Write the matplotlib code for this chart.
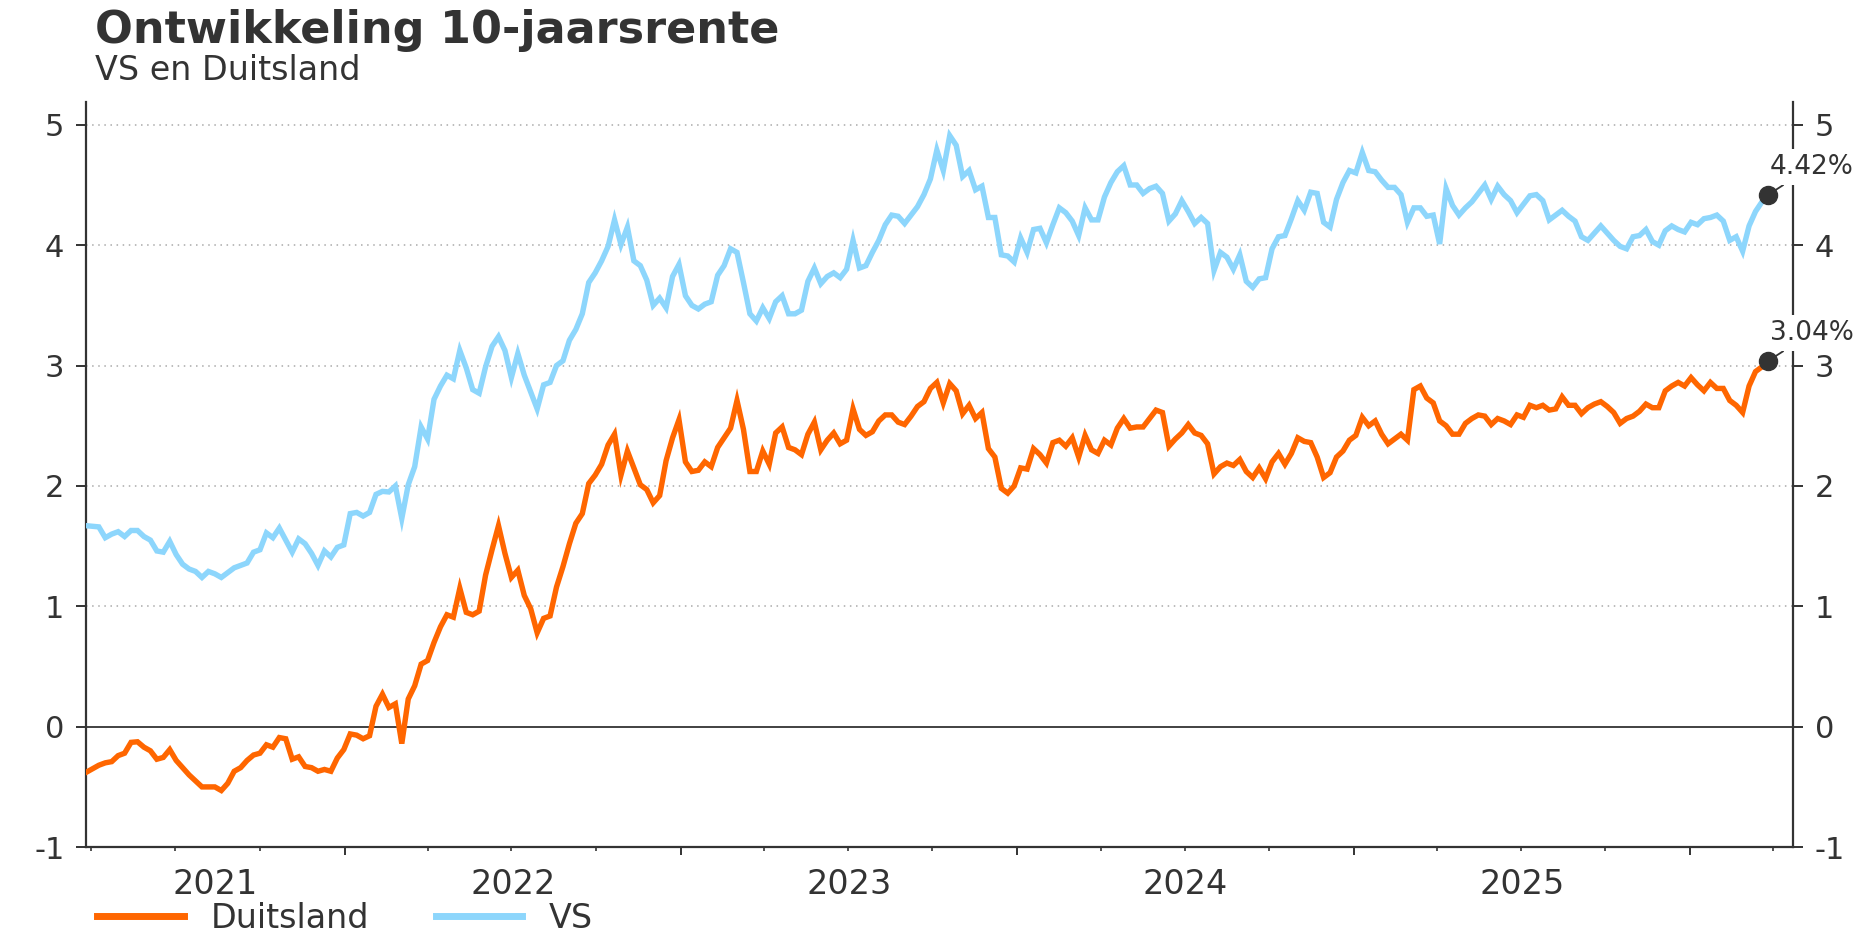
import pandas as pd
import matplotlib
matplotlib.use("Agg")
import matplotlib.pyplot as plt
import matplotlib.dates as mdates
from matplotlib.lines import Line2D

plt.rcParams['font.family'] = ['DejaVu Sans']

# weekly closes (Friday)
start_date = "2021-03-26"

us_yield = [
    1.67, 1.665, 1.66, 1.57, 1.60, 1.62, 1.58, 1.63, 1.63, 1.58,
    1.55, 1.46, 1.45, 1.54, 1.43, 1.35, 1.31, 1.29, 1.24, 1.29,
    1.27, 1.24, 1.28, 1.32, 1.34, 1.36, 1.45, 1.47, 1.61, 1.57,
    1.65, 1.55, 1.45, 1.56, 1.52, 1.44, 1.34, 1.46, 1.41, 1.49,
    1.51, 1.77, 1.78, 1.75, 1.78, 1.93, 1.955, 1.95, 2.00, 1.73,
    2.01, 2.16, 2.49, 2.39, 2.72, 2.83, 2.92, 2.89, 3.125, 2.98,
    2.80, 2.77, 2.99, 3.16, 3.24, 3.125, 2.90, 3.10, 2.92, 2.78,
    2.64, 2.84, 2.86, 3.00, 3.04, 3.21, 3.30, 3.43, 3.69, 3.77,
    3.87, 3.99, 4.21, 4.005, 4.15, 3.87, 3.83, 3.71, 3.50, 3.56,
    3.48, 3.74, 3.84, 3.58, 3.50, 3.47, 3.51, 3.53, 3.75, 3.83,
    3.97, 3.94, 3.69, 3.43, 3.37, 3.48, 3.39, 3.53, 3.58, 3.43,
    3.43, 3.46, 3.70, 3.81, 3.68, 3.74, 3.77, 3.73, 3.80, 4.04,
    3.81, 3.83, 3.94, 4.04, 4.17, 4.25, 4.24, 4.18, 4.25, 4.32,
    4.42, 4.55, 4.79, 4.62, 4.91, 4.83, 4.57, 4.62, 4.46, 4.49,
    4.23, 4.23, 3.92, 3.91, 3.86, 4.06, 3.94, 4.13, 4.14, 4.02,
    4.17, 4.31, 4.27, 4.20, 4.08, 4.31, 4.21, 4.21, 4.40, 4.52,
    4.61, 4.66, 4.50, 4.50, 4.43, 4.47, 4.49, 4.43, 4.20, 4.26,
    4.37, 4.28, 4.18, 4.23, 4.18, 3.79, 3.94, 3.90, 3.80, 3.92,
    3.70, 3.65, 3.72, 3.73, 3.97, 4.07, 4.08, 4.22, 4.37, 4.29,
    4.44, 4.43, 4.19, 4.15, 4.38, 4.52, 4.62, 4.60, 4.77, 4.62,
    4.61, 4.54, 4.48, 4.48, 4.42, 4.19, 4.31, 4.31, 4.24, 4.25,
    4.01, 4.47, 4.33, 4.25, 4.31, 4.36, 4.43, 4.50, 4.38, 4.49,
    4.42, 4.37, 4.27, 4.34, 4.41, 4.42, 4.37, 4.21, 4.25, 4.29,
    4.24, 4.20, 4.07, 4.04, 4.10, 4.16, 4.10, 4.04, 3.99, 3.97,
    4.07, 4.08, 4.13, 4.03, 4.00, 4.12, 4.16, 4.13, 4.11, 4.19,
    4.17, 4.22, 4.23, 4.25, 4.20, 4.04, 4.07, 3.95, 4.16, 4.28,
    4.36, 4.42,
]

de_yield = [
    -0.38, -0.35, -0.32, -0.30, -0.29, -0.24, -0.22, -0.13, -0.125, -0.17,
    -0.20, -0.27, -0.255, -0.19, -0.28, -0.34, -0.40, -0.45, -0.50, -0.50,
    -0.50, -0.53, -0.47, -0.37, -0.34, -0.28, -0.235, -0.22, -0.15, -0.17,
    -0.09, -0.10, -0.27, -0.25, -0.33, -0.34, -0.37, -0.355, -0.37, -0.26,
    -0.19, -0.06, -0.07, -0.10, -0.075, 0.17, 0.27, 0.16, 0.19, -0.14,
    0.23, 0.34, 0.52, 0.55, 0.70, 0.83, 0.93, 0.91, 1.15, 0.95,
    0.93, 0.96, 1.26, 1.47, 1.67, 1.44, 1.24, 1.30, 1.09, 0.98,
    0.78, 0.90, 0.92, 1.16, 1.33, 1.52, 1.69, 1.77, 2.02, 2.09,
    2.18, 2.34, 2.43, 2.09, 2.29, 2.15, 2.01, 1.97, 1.86, 1.92,
    2.21, 2.40, 2.55, 2.20, 2.12, 2.13, 2.20, 2.16, 2.32, 2.40,
    2.48, 2.71, 2.47, 2.12, 2.12, 2.29, 2.18, 2.44, 2.49, 2.32,
    2.30, 2.26, 2.43, 2.53, 2.30, 2.38, 2.44, 2.35, 2.38, 2.64,
    2.47, 2.42, 2.45, 2.54, 2.59, 2.59, 2.53, 2.51, 2.58, 2.66,
    2.70, 2.81, 2.86, 2.69, 2.85, 2.79, 2.60, 2.67, 2.56, 2.61,
    2.31, 2.24, 1.98, 1.94, 2.00, 2.15, 2.14, 2.31, 2.26, 2.19,
    2.36, 2.38, 2.33, 2.40, 2.24, 2.42, 2.30, 2.27, 2.38, 2.34,
    2.48, 2.56, 2.48, 2.49, 2.49, 2.56, 2.63, 2.61, 2.33, 2.39,
    2.44, 2.51, 2.44, 2.42, 2.35, 2.10, 2.16, 2.19, 2.17, 2.22,
    2.12, 2.07, 2.15, 2.06, 2.20, 2.27, 2.18, 2.27, 2.40, 2.37,
    2.36, 2.24, 2.07, 2.11, 2.24, 2.29, 2.38, 2.42, 2.57, 2.50,
    2.54, 2.43, 2.35, 2.39, 2.43, 2.38, 2.80, 2.83, 2.73, 2.69,
    2.54, 2.50, 2.43, 2.43, 2.52, 2.56, 2.59, 2.58, 2.51, 2.56,
    2.54, 2.51, 2.59, 2.57, 2.67, 2.65, 2.67, 2.63, 2.64, 2.74,
    2.67, 2.67, 2.60, 2.65, 2.68, 2.70, 2.66, 2.61, 2.52, 2.56,
    2.58, 2.62, 2.68, 2.65, 2.65, 2.79, 2.83, 2.86, 2.83, 2.90,
    2.84, 2.79, 2.86, 2.81, 2.81, 2.71, 2.67, 2.61, 2.83, 2.95,
    2.99, 3.04,
]

title = "Ontwikkeling 10-jaarsrente"
subtitle = "VS en Duitsland"
series_names = ["Duitsland", "VS"]
series_colors = ["#ff6600", "#8dd6fc"]
y_ticks = [-1, 0, 1, 2, 3, 4, 5]
years = [2021, 2022, 2023, 2024, 2025, 2026]

dates = pd.date_range(start_date, periods=len(us_yield), freq="7D")
dark = "#333333"

fig = plt.figure(figsize=(18.68, 9.35), dpi=100)
ax = fig.add_axes([0.046, 0.094, 0.914, 0.797])

# gridlines + zero line
for y in y_ticks:
    if y > 0:
        ax.axhline(y, color="#aaaaaa", lw=1.1, ls=(0, (1, 3)), zorder=1)
ax.axhline(0, color=dark, lw=1.3, zorder=1.5)

ax.plot(dates, de_yield, color=series_colors[0], lw=3.9, zorder=3, solid_joinstyle="miter")
ax.plot(dates, us_yield, color=series_colors[1], lw=3.9, zorder=3, solid_joinstyle="miter")

xmin = dates[0]
xmax = dates[-1] + pd.Timedelta(days=27)
ax.set_xlim(xmin, xmax)
ax.set_ylim(-1, 5.19)

for s in ["left", "right", "bottom"]:
    ax.spines[s].set_color(dark)
    ax.spines[s].set_linewidth(1.6)
ax.spines["top"].set_visible(False)

ax.set_yticks(y_ticks)
ax.set_yticklabels([str(v) for v in y_ticks])
ax.tick_params(axis="y", which="major", direction="out", length=7.5, width=1.4,
               color=dark, labelsize=22, labelcolor=dark, left=True, right=True,
               labelleft=True, labelright=True, pad=8)

ax.xaxis.set_major_locator(mdates.YearLocator())
ax.xaxis.set_minor_locator(mdates.MonthLocator(bymonth=[1, 4, 7, 10]))
ax.xaxis.set_major_formatter(plt.NullFormatter())
ax.tick_params(axis="x", which="major", direction="out", length=6, width=1.4, color=dark)
ax.tick_params(axis="x", which="minor", direction="out", length=3, width=1.2, color=dark)

# year labels centred on the visible part of each year
for yr in years:
    s = max(pd.Timestamp(f"{yr}-01-01"), xmin)
    e = min(pd.Timestamp(f"{yr + 1}-01-01"), xmax)
    if (e - s).days > 120:
        mid = s + (e - s) / 2
        ax.text(mid, -0.05, str(yr), transform=ax.get_xaxis_transform(),
                ha="center", va="center", fontsize=24, color=dark)

# end-point markers and labels
for vals in [us_yield, de_yield]:
    ax.plot(dates[-1], vals[-1], "o", ms=13, color=dark, zorder=6, clip_on=False)
    ax.annotate(f"{vals[-1]:.2f}%", xy=(dates[-1], vals[-1]), xytext=(31, 20),
                textcoords="offset points", ha="center", va="center",
                fontsize=19, color=dark, zorder=7, annotation_clip=False,
                bbox=dict(boxstyle="square,pad=0.2", fc="white", ec="none"),
                arrowprops=dict(arrowstyle="-", color=dark, lw=1.3,
                                shrinkA=0, shrinkB=6))

fig.text(95 / 1868, 1 - 30 / 935, title, fontsize=32, fontweight="bold",
         color=dark, ha="left", va="center")
fig.text(95 / 1868, 1 - 71 / 935, subtitle, fontsize=24, color=dark,
         ha="left", va="center")

handles = [Line2D([], [], color=c, lw=5) for c in series_colors]
fig.legend(handles, series_names, loc="center left", bbox_to_anchor=(0.052, 1 - 918 / 935),
           ncol=2, frameon=False, fontsize=24, handlelength=2.6, handletextpad=0.8,
           columnspacing=2.0, borderpad=0, borderaxespad=0, labelcolor=dark)

fig.savefig("out.png", dpi=100, facecolor="white")
